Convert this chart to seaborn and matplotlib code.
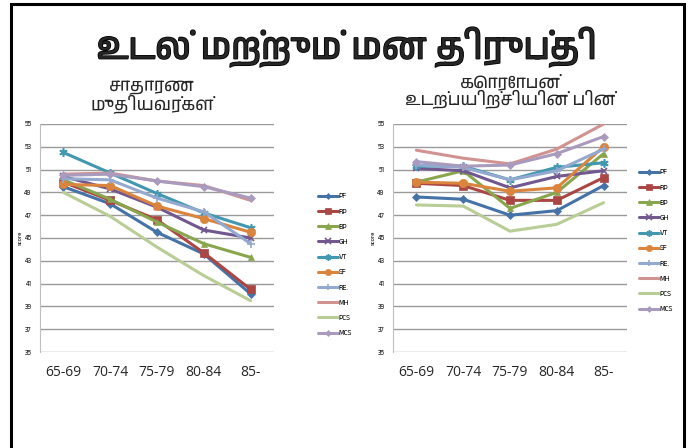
import matplotlib
matplotlib.use("Agg")
import matplotlib.pyplot as plt
import matplotlib.patheffects as pe
import seaborn as sns
import pandas as pd
from matplotlib.patches import Rectangle
from matplotlib import font_manager

# ---------------- data ----------------
ages = ["65-69", "70-74", "75-79", "80-84", "85-"]
series = ["PF", "RP", "BP", "GH", "VT", "SF", "RE.", "MH", "PCS", "MCS"]

normal_PF = [49.5, 48.0, 45.5, 43.6, 40.1]
normal_RP = [49.9, 48.3, 46.6, 43.7, 40.5]
normal_BP = [50.1, 48.4, 46.4, 44.5, 43.3]
normal_GH = [50.4, 49.3, 47.7, 45.7, 45.0]
normal_VT = [52.5, 50.7, 48.9, 47.2, 45.9]
normal_SF = [49.7, 49.6, 47.8, 46.7, 45.5]
normal_RE = [50.2, 50.1, 48.5, 47.3, 44.5]
normal_MH = [50.6, 50.7, 50.0, 49.6, 48.3]
normal_PCS = [49.0, 46.9, 44.2, 41.7, 39.5]
normal_MCS = [50.5, 50.6, 50.0, 49.5, 48.5]

ex_PF = [48.6, 48.4, 47.0, 47.4, 49.6]
ex_RP = [49.8, 49.6, 48.3, 48.3, 50.3]
ex_BP = [49.9, 50.9, 47.6, 49.0, 52.4]
ex_GH = [51.1, 50.9, 49.4, 50.4, 50.9]
ex_VT = [51.3, 51.3, 50.1, 51.2, 51.6]
ex_SF = [49.9, 49.8, 49.1, 49.4, 53.0]
ex_RE = [51.4, 51.2, 50.1, 50.9, 52.8]
ex_MH = [52.7, 52.0, 51.5, 52.8, 55.0]
ex_PCS = [47.9, 47.8, 45.6, 46.2, 48.1]
ex_MCS = [51.7, 51.3, 51.4, 52.4, 53.9]

y_ticks = [35, 37, 39, 41, 43, 45, 47, 49, 51, 53, 55]

title = "உடல் மற்றும் மன திருப்தி"
sub_left = "சாதாரண\nமுதியவர்கள்"
sub_right = "கொரோபன்\nஉடற்பயிற்சியின் பின்"

# ---------------- style ----------------
sns.set_theme(style="white")
tamil_fonts = []
for f in font_manager.fontManager.ttflist:
    if "tamil" in f.name.lower() and f.name not in tamil_fonts:
        tamil_fonts.append(f.name)
plt.rcParams["font.family"] = tamil_fonts + ["Liberation Sans", "DejaVu Sans"]

colors = {"PF": "#4572A7", "RP": "#AA4643", "BP": "#89A54E", "GH": "#71588F",
          "VT": "#4198AF", "SF": "#DB843D", "RE.": "#93A9CF", "MH": "#D19392",
          "PCS": "#B9CD96", "MCS": "#A99BBD"}
markers = {"PF": "D", "RP": "s", "BP": "^", "GH": "x", "VT": (6, 2, 0),
           "SF": "o", "RE.": "+", "MH": None, "PCS": None, "MCS": "D"}
msizes = {"PF": 4, "RP": 6, "BP": 5, "GH": 5, "VT": 6, "SF": 6,
          "RE.": 6, "MH": 0, "PCS": 0, "MCS": 4}

def make_df(vals):
    rows = []
    for s, v in zip(series, vals):
        for a, y in zip(ages, v):
            rows.append({"age": a, "series": s, "score": y})
    return pd.DataFrame(rows)

df_left = make_df([normal_PF, normal_RP, normal_BP, normal_GH, normal_VT,
                   normal_SF, normal_RE, normal_MH, normal_PCS, normal_MCS])
df_right = make_df([ex_PF, ex_RP, ex_BP, ex_GH, ex_VT,
                    ex_SF, ex_RE, ex_MH, ex_PCS, ex_MCS])

fig = plt.figure(figsize=(6.93, 4.48), dpi=100)
W, H = 693, 448

def fx(px):
    return px / W

def fy(py):
    return 1 - py / H

# outer frame
fig.patches.append(Rectangle((fx(11), fy(470)), fx(673), 466 / H,
                             transform=fig.transFigure, fill=False,
                             edgecolor="black", linewidth=2.2, clip_on=False))

def draw_panel(df, left, right, leg_x, leg_top):
    ax = fig.add_axes([fx(left), fy(352), fx(right - left), (352 - 124) / H])
    for s in series:
        sub = df[df["series"] == s]
        m = markers[s]
        kw = {}
        if m is not None:
            kw = dict(marker=m, markersize=msizes[s], markeredgecolor=colors[s],
                      markeredgewidth=1.2 if m in ("x", "+", (6, 2, 0)) else 0.5)
        sns.lineplot(data=sub, x="age", y="score", ax=ax, color=colors[s],
                     linewidth=2.2, label=s, sort=False, **kw)
    ax.set_xlim(-0.5, 4.5)
    ax.set_ylim(35, 55)
    ax.set_yticks(y_ticks)
    ax.set_yticklabels([str(t) for t in y_ticks], fontsize=5, color="#333333",
                       fontweight="bold")
    ax.tick_params(axis="x", labelsize=10, length=0, pad=9)
    ax.tick_params(axis="y", length=0, pad=6)
    for lbl in ax.get_xticklabels():
        lbl.set_fontfamily(["Open Sans", "DejaVu Sans"])
    ax.grid(axis="y", color="#9a9a9a", linewidth=1.0)
    ax.grid(axis="x", visible=False)
    ax.set_axisbelow(True)
    for sp in ["top", "right", "bottom"]:
        ax.spines[sp].set_visible(False)
    ax.spines["left"].set_color("#bfbfbf")
    ax.spines["left"].set_linewidth(0.8)
    ax.set_xlabel("")
    ax.set_ylabel("score", fontsize=4.5, fontweight="bold", labelpad=1)
    handles, labels = ax.get_legend_handles_labels()
    ax.get_legend().remove()
    fig.legend(handles, labels, loc="upper left",
               bbox_to_anchor=(fx(leg_x), fy(leg_top)),
               frameon=False, fontsize=5.5, handlelength=2.6,
               handletextpad=0.1, labelspacing=1.16, borderaxespad=0,
               borderpad=0, markerscale=0.75)
    return ax

draw_panel(df_left, 40, 274, 318, 193)
draw_panel(df_right, 393, 627, 639, 169)

fig.text(0.5, fy(47), title, ha="center", va="center", fontsize=26,
         fontweight="bold",
         path_effects=[pe.withStroke(linewidth=1.1, foreground="black")])
fig.text(fx(152), fy(97), sub_left, ha="center", va="center", fontsize=12.5,
         linespacing=0.95)
fig.text(fx(510), fy(91), sub_right, ha="center", va="center", fontsize=12.5,
         linespacing=0.95)

fig.savefig("out.png", dpi=100)
